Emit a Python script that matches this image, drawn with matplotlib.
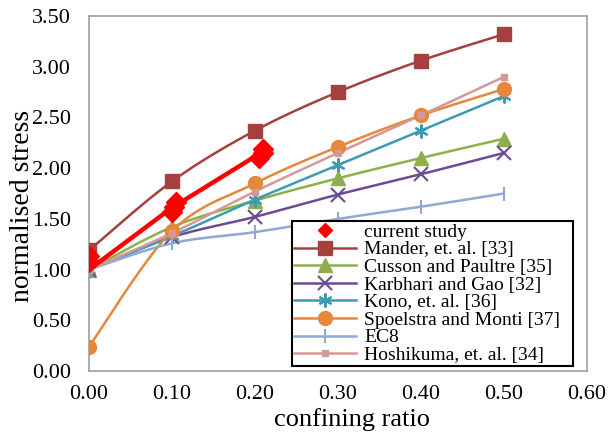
import numpy as np
import matplotlib
matplotlib.use("Agg")
import matplotlib.pyplot as plt
from matplotlib.lines import Line2D

plt.rcParams['font.family'] = ['Liberation Serif', 'DejaVu Serif']

x_models = [0.0, 0.1, 0.2, 0.3, 0.4, 0.5]
mander = [1.19, 1.87, 2.37, 2.75, 3.06, 3.32]
cusson = [1.00, 1.42, 1.68, 1.90, 2.10, 2.29]
karbhari = [1.00, 1.32, 1.52, 1.74, 1.94, 2.15]
kono = [1.00, 1.33, 1.69, 2.03, 2.37, 2.71]
spoelstra = [0.24, 1.38, 1.85, 2.21, 2.52, 2.78]
ec8 = [1.00, 1.26, 1.37, 1.50, 1.62, 1.75]
hoshikuma = [1.00, 1.36, 1.77, 2.15, 2.52, 2.90]

study_line_x = [0.0, 0.1, 0.205]
study_line_y = [1.00, 1.61, 2.14]
study_x = [0.0, 0.0, 0.1, 0.103, 0.105, 0.205, 0.21, 0.21]
study_y = [1.08, 1.13, 1.57, 1.62, 1.67, 2.10, 2.15, 2.19]

xticks = [0.0, 0.1, 0.2, 0.3, 0.4, 0.5, 0.6]
yticks = [0.0, 0.5, 1.0, 1.5, 2.0, 2.5, 3.0, 3.5]


def smooth(xs, ys, n=30, t=0.5):
    xs = np.asarray(xs, float); ys = np.asarray(ys, float)
    P = np.column_stack([xs, ys])
    out = []
    for i in range(len(P) - 1):
        p0 = P[i - 1] if i > 0 else P[i]
        p1 = P[i]; p2 = P[i + 1]
        p3 = P[i + 2] if i + 2 < len(P) else P[i + 1]
        c1 = p1 + (p2 - p0) * t / 3
        c2 = p2 - (p3 - p1) * t / 3
        s = np.linspace(0, 1, n)[:, None]
        seg = (1 - s) ** 3 * p1 + 3 * (1 - s) ** 2 * s * c1 + 3 * (1 - s) * s ** 2 * c2 + s ** 3 * p2
        out.append(seg if i == 0 else seg[1:])
    out = np.vstack(out)
    return out[:, 0], out[:, 1]


fig = plt.figure(figsize=(6.15, 4.33), dpi=100)
ax = fig.add_axes([0.1447, 0.143, 0.8093, 0.820])

series = [
    ("Mander, et. al. [33]", mander, '#A5403E', 's', 10, {}),
    ("Cusson and Paultre [35]", cusson, '#8DB04A', '^', 10, {}),
    ("Karbhari and Gao [32]", karbhari, '#6B4C94', 'x', 10, {'markeredgewidth': 1.5}),
    ("Kono, et. al. [36]", kono, '#3C9BB3', (6, 2, 0), 10, {'markeredgewidth': 1.5}),
    ("Spoelstra and Monti [37]", spoelstra, '#E6873A', 'o', 10, {}),
    ("EC8", ec8, '#8EA9D6', '|', 10, {'markeredgewidth': 1.5}),
    ("Hoshikuma, et. al. [34]", hoshikuma, '#D69896', 's', 4, {}),
]

handles = []
study_h = Line2D([], [], color='red', marker='D', linestyle='none', markersize=7)
handles.append(study_h)

ax.plot(study_line_x, study_line_y, color='red', lw=3.2, zorder=5)
ax.plot(study_x, study_y, color='red', marker='D', linestyle='none', markersize=10, zorder=6)

for name, ys, c, m, ms, kw in series:
    sx, sy = smooth(x_models, ys)
    ax.plot(sx, sy, color=c, lw=1.8, zorder=3)
    ax.plot(x_models, ys, color=c, marker=m, markersize=ms, linestyle='none', zorder=4, **kw)
    handles.append(Line2D([], [], color=c, lw=1.8, marker=m, markersize=ms, **kw))

labels = ["current study"] + [s[0] for s in series]

ax.set_xlim(0, 0.6)
ax.set_ylim(0, 3.5)
ax.set_xticks(xticks)
ax.set_yticks(yticks)
ax.set_xticklabels([f"{v:.2f}" for v in xticks])
ax.set_yticklabels([f"{v:.2f}" for v in yticks])
ax.tick_params(axis='x', length=0, labelsize=16, pad=10)
ax.tick_params(axis='y', length=0, labelsize=16, pad=13)
for sp in ax.spines.values():
    sp.set_color('#A0A0A0')
    sp.set_linewidth(1.2)

ax.set_xlabel("confining ratio", fontsize=19)
ax.xaxis.set_label_coords(0.528, -0.104)
ax.set_ylabel("normalised stress", fontsize=20)
ax.yaxis.set_label_coords(-0.108, 0.465)

leg = ax.legend(handles, labels, loc='lower left', bbox_to_anchor=(292 / 615, 1 - 366 / 433, 281 / 615, 155 / 433),
                bbox_transform=fig.transFigure, mode='expand', fontsize=14, frameon=True, fancybox=False,
                edgecolor='black', framealpha=1, borderpad=0.1, labelspacing=0.0, handlelength=3.2,
                handletextpad=0.4, borderaxespad=0)
leg.get_frame().set_linewidth(1.5)
leg.set_zorder(10)

fig.savefig("out.png", dpi=100)
